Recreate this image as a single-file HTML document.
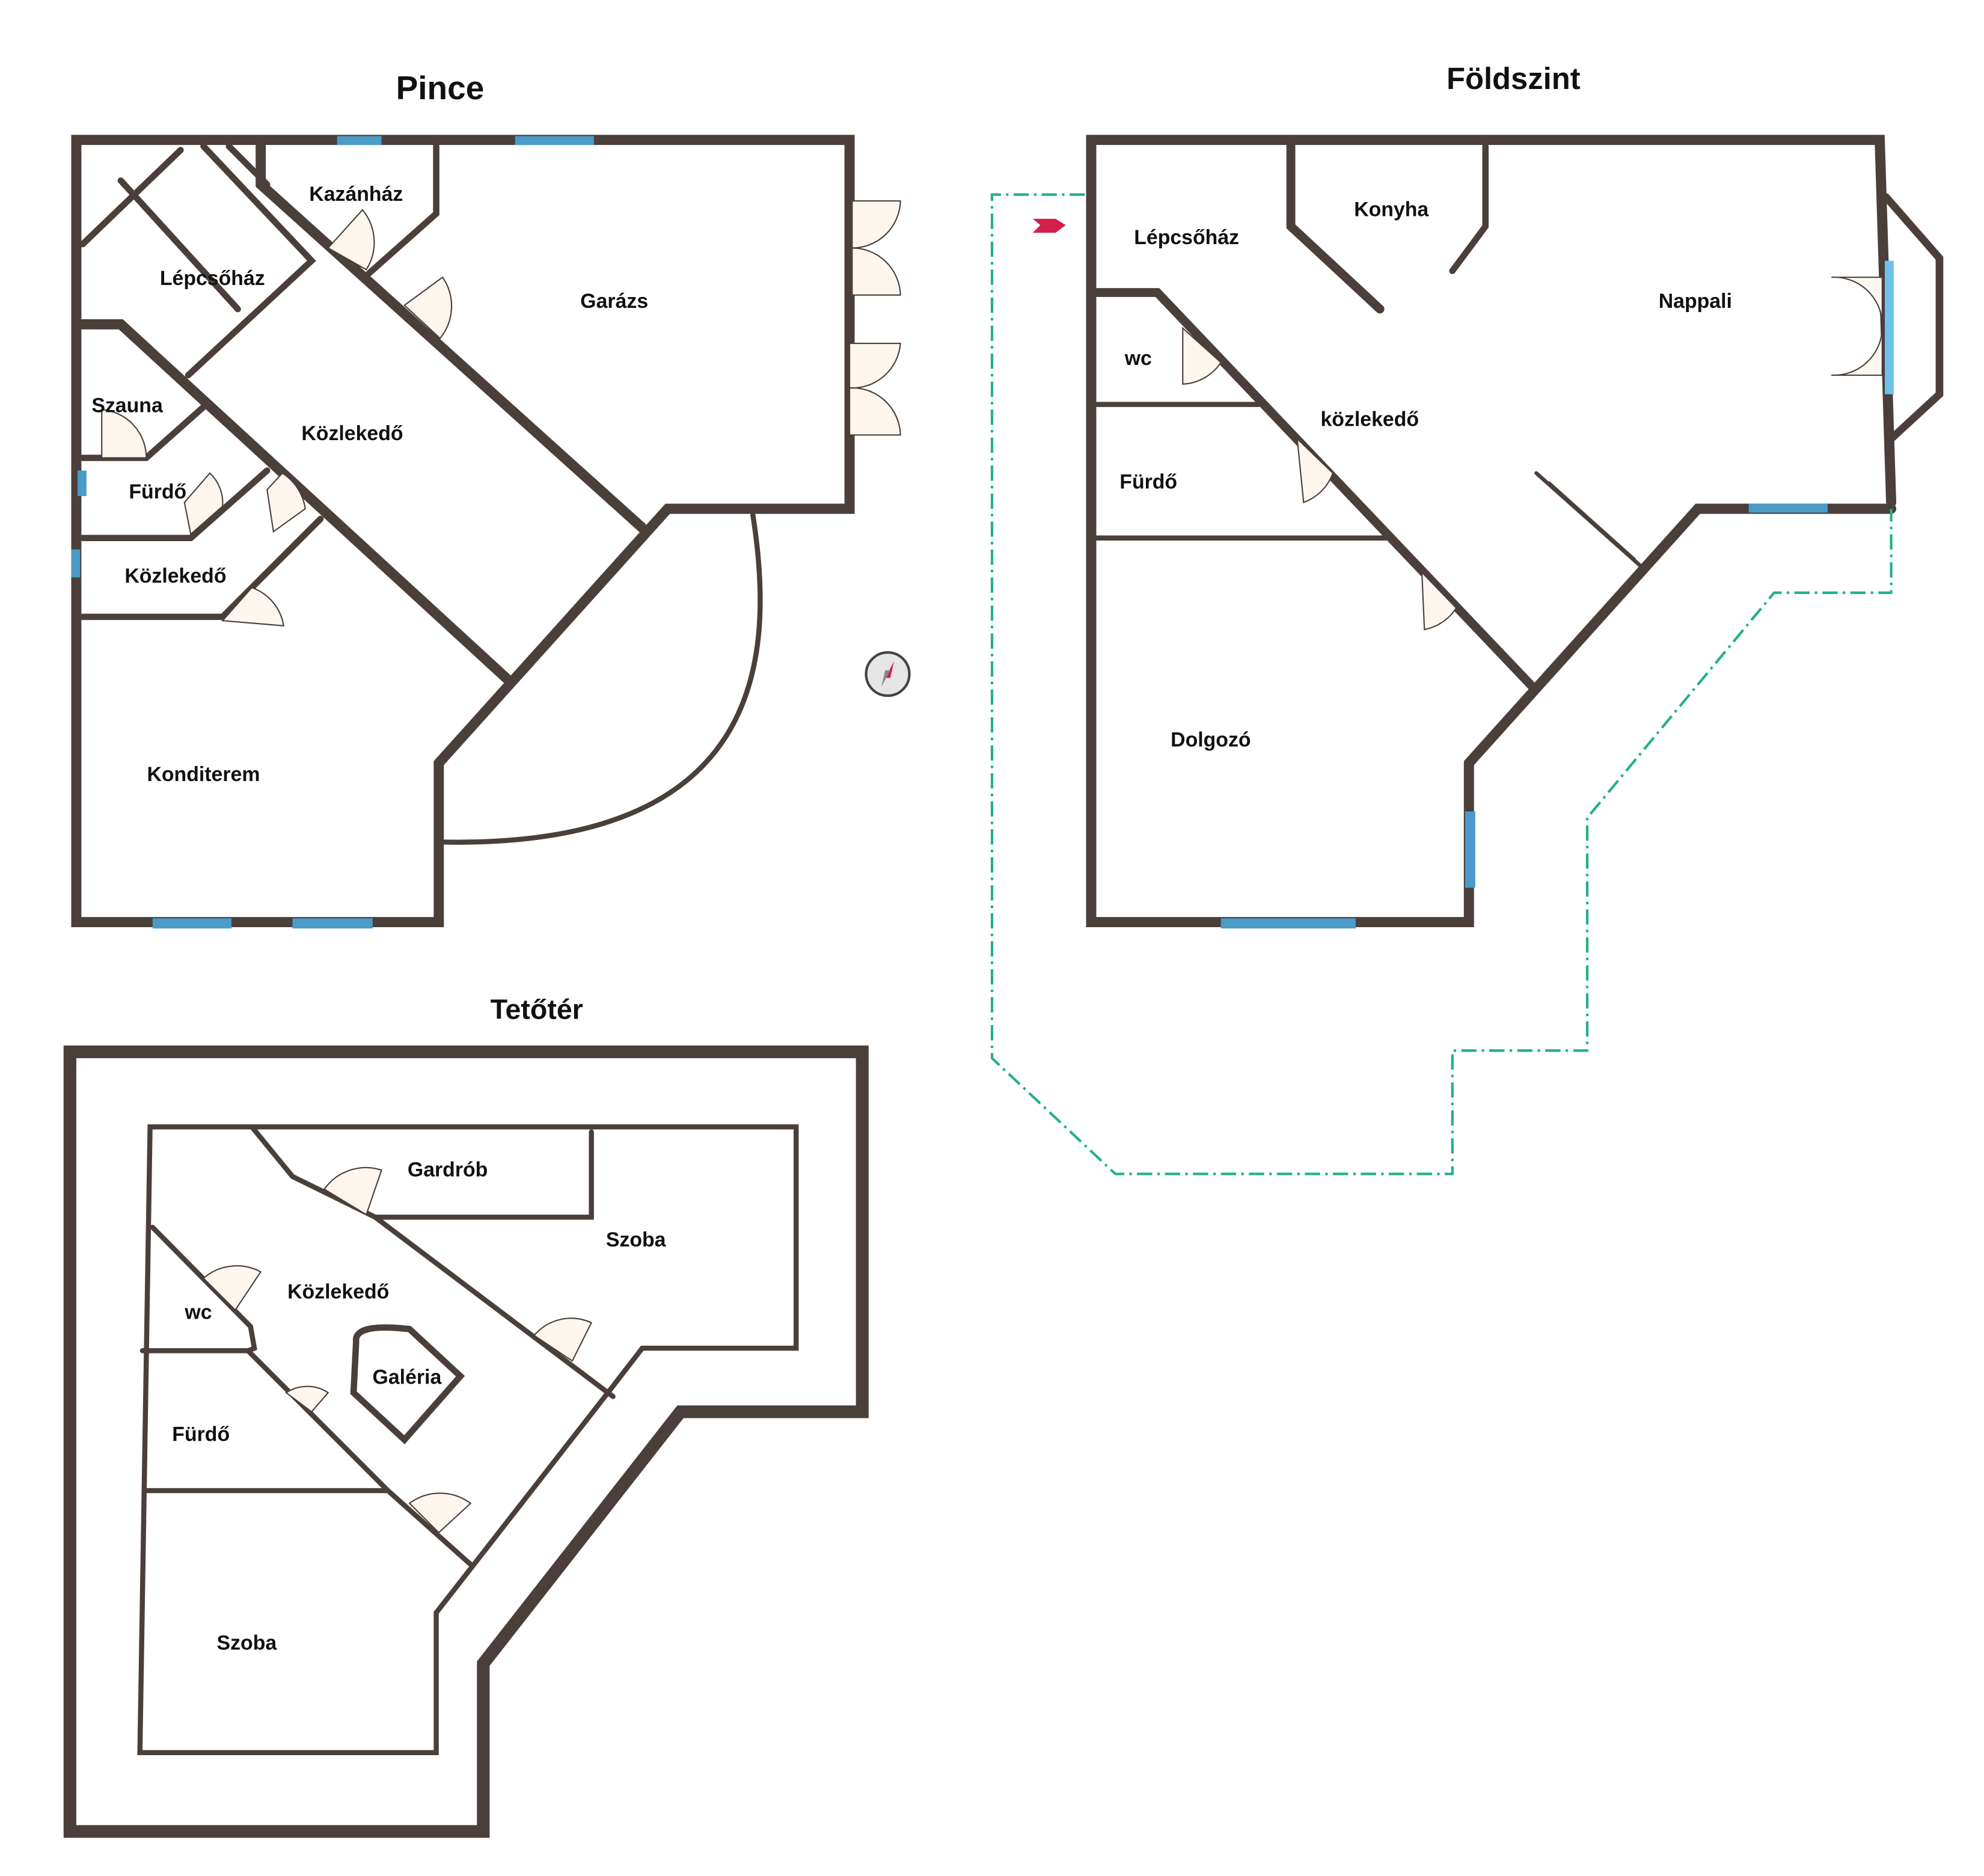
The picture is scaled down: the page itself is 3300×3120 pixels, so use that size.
<!DOCTYPE html>
<html><head><meta charset="utf-8"><style>
html,body{margin:0;padding:0;background:#fff}
svg{display:block}
text{font-family:"Liberation Sans",sans-serif;font-weight:bold;fill:#111}
</style></head><body>
<svg width="3300" height="3120" viewBox="0 0 1560 1475" preserveAspectRatio="none" xmlns="http://www.w3.org/2000/svg">
<g fill="none" stroke="#4a3f3a" stroke-linejoin="miter" stroke-linecap="round">
<!-- PINCE -->
<path d="M60,110 H668 V400 H525 L345,600 V725 H60 Z" stroke-width="8"/>
<path d="M205,115 V145 L505,415" stroke-width="8"/>
<path d="M180,115 L210,145" stroke-width="5"/>
<path d="M160,115 L245,205 L148,295" stroke-width="5"/>
<path d="M65,192 L142,118" stroke-width="5"/>
<path d="M95,142 L187,243" stroke-width="5"/>
<path d="M343,115 V168 L290,215" stroke-width="5"/>
<path d="M65,255 H95 L400,535" stroke-width="8"/>
<path d="M65,360 H115 L160,320" stroke-width="5"/>
<path d="M65,423 H150 L210,370" stroke-width="5"/>
<path d="M65,485 H175 L252,408" stroke-width="5"/>
<path d="M592,405 C610,520 600,668 345,662" stroke-width="4"/>
<!-- FÖLDSZINT -->
<path d="M1487,395 L1478,110 H858 V725 H1155 V600 L1335,400 H1487" stroke-width="8"/>
<path d="M1483,155 L1525,203 V310 L1487,345" stroke-width="6"/>
<path d="M1015,115 V178 L1085,243" stroke-width="7"/>
<path d="M1168,115 V178 L1142,213" stroke-width="5"/>
<path d="M862,230 H910 L1205,540" stroke-width="7"/>
<path d="M862,318 H990" stroke-width="4"/>
<path d="M862,423 H1095" stroke-width="4"/>
<path d="M1208,372 L1290,445 M1218,380 L1285,440" stroke-width="3"/>
<!-- TETŐTÉR -->
<path d="M55,827 H678 V1110 H535 L380,1308 V1440 H55 Z" stroke-width="10"/>
<path d="M118,886 H626 V1060 H505 L478,1095 L343,1268 V1378 H110 Z" stroke-width="4"/>
<path d="M198,886 L230,925 L295,957 H465 V890" stroke-width="4"/>
<path d="M295,957 L482,1098" stroke-width="4"/>
<path d="M120,965 L197,1043 L200,1060 L195,1062 H112" stroke-width="4"/>
<path d="M195,1062 L305,1172 L370,1230" stroke-width="4"/>
<path d="M115,1172 H305" stroke-width="4"/>
<path d="M280,1055 Q278,1040 322,1045 L362,1082 L318,1132 L278,1095 Z" stroke-width="5"/>
</g>
<!-- windows -->
<g fill="#4a9bc7">
<rect x="265" y="107" width="35" height="7"/><rect x="405" y="107" width="62" height="7"/>
<rect x="120" y="722" width="62" height="8"/><rect x="230" y="722" width="63" height="8"/>
<rect x="61" y="370" width="7" height="20"/><rect x="56" y="432" width="7" height="22"/>
<rect x="960" y="722" width="106" height="8"/><rect x="1152" y="638" width="8" height="60"/>
<rect x="1375" y="396" width="62" height="7"/>
<rect x="1482" y="205" width="7" height="105" fill="#6fc0ea"/>
</g>
<!-- doors -->
<g fill="#fdf6ee" stroke="#4a3f3a" stroke-width="1">
<path d="M258,195 L285,165 A40,40 0 0 1 288,212 Z"/>
<path d="M318,240 L348,218 A40,40 0 0 1 346,266 Z"/>
<path d="M80,360 L80,322 A38,38 0 0 1 115,360 Z"/>
<path d="M145,395 L165,372 A32,32 0 0 1 175,398 L150,420 Z"/>
<path d="M210,385 L222,372 A40,40 0 0 1 240,400 L215,418 Z"/>
<path d="M175,488 L198,462 A38,38 0 0 1 223,492 Z"/>
<path d="M670,158 H708 A38,38 0 0 1 670,195 A38,38 0 0 1 708,232 H670 Z"/>
<path d="M668,270 H708 A38,38 0 0 1 668,305 A38,38 0 0 1 708,342 H668 Z"/>
<path d="M1440,218 H1480 V295 H1440 A38,38 0 0 0 1480,258 A38,38 0 0 0 1440,218 Z"/>
<path d="M930,258 L960,285 A38,38 0 0 1 930,302 Z"/>
<path d="M1020,345 L1048,372 A38,38 0 0 1 1025,395 Z"/>
<path d="M1118,450 L1145,478 A38,38 0 0 1 1120,495 Z"/>
<path d="M255,935 A40,40 0 0 1 300,920 L288,955 Z"/>
<path d="M160,1005 A40,40 0 0 1 205,1000 L185,1030 Z"/>
<path d="M420,1050 A38,38 0 0 1 465,1040 L450,1070 Z"/>
<path d="M225,1095 A30,30 0 0 1 258,1095 L245,1110 Z"/>
<path d="M322,1182 A40,40 0 0 1 370,1182 L345,1205 Z"/>
</g>
<!-- dashed boundary -->
<path d="M853,153 H780 V832 L877,923 H1142 V826 H1248 V643 L1395,466 H1487 V400" fill="none" stroke="#21b08d" stroke-width="2" stroke-dasharray="12,4,2,4"/>
<path d="M812,172 L830,172 L838,177 L830,183 L812,183 L818,177 Z" fill="#d2204a"/>
<!-- compass -->
<circle cx="698" cy="530" r="17" fill="#e6e6e6" stroke="#444" stroke-width="2"/>
<path d="M703,520 L696,533 L700,533 Z" fill="#d2204a"/><path d="M693,540 L700,527 L696,527 Z" fill="#888"/>
<!-- labels -->
<text x="346" y="78" font-size="26" text-anchor="middle">Pince</text>
<text x="1190" y="70" font-size="24" text-anchor="middle">Földszint</text>
<text x="422" y="801" font-size="22" text-anchor="middle">Tetőtér</text>
<g font-size="16" text-anchor="middle">
<text x="280" y="158">Kazánház</text><text x="167" y="224">Lépcsőház</text>
<text x="483" y="242">Garázs</text><text x="100" y="324">Szauna</text>
<text x="277" y="346">Közlekedő</text><text x="124" y="392">Fürdő</text>
<text x="138" y="458">Közlekedő</text><text x="160" y="614">Konditerem</text>
<text x="933" y="192">Lépcsőház</text><text x="1094" y="170">Konyha</text>
<text x="1333" y="242">Nappali</text><text x="895" y="287">wc</text>
<text x="1077" y="335">közlekedő</text><text x="903" y="384">Fürdő</text>
<text x="952" y="587">Dolgozó</text>
<text x="352" y="925">Gardrób</text><text x="500" y="980">Szoba</text>
<text x="266" y="1021">Közlekedő</text><text x="156" y="1037">wc</text>
<text x="320" y="1088">Galéria</text><text x="158" y="1133">Fürdő</text>
<text x="194" y="1297">Szoba</text>
</g>
</svg>
</body></html>
